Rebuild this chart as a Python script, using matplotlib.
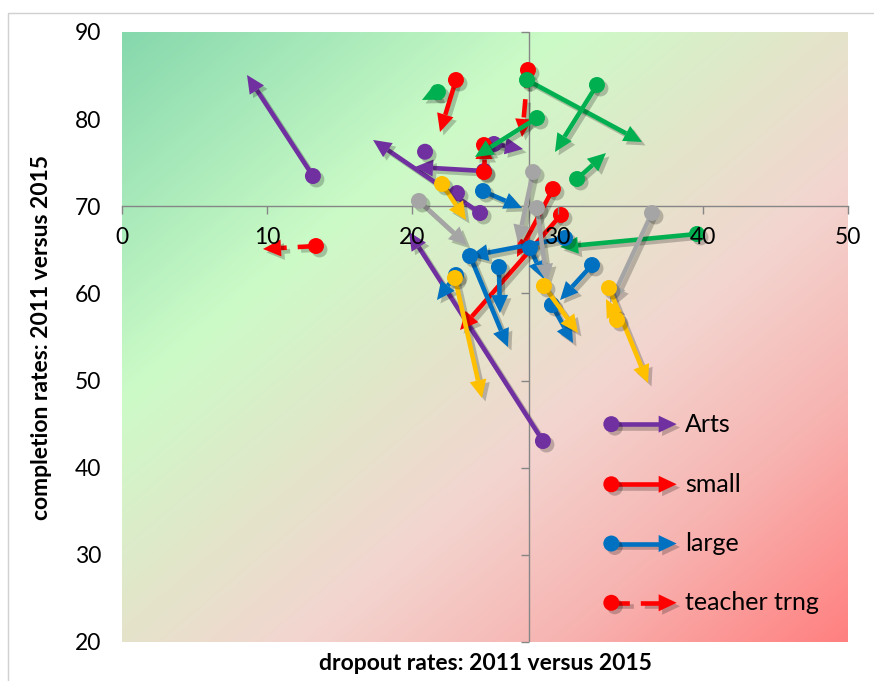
import numpy as np
import matplotlib
matplotlib.use("Agg")
import matplotlib.pyplot as plt
import matplotlib.patheffects as pe
from matplotlib.colors import LinearSegmentedColormap
from matplotlib.patches import Polygon, Rectangle

plt.rcParams['font.family'] = ['Lato', 'DejaVu Sans']

# each school: dropout / completion in 2011 (circle) and 2015 (arrow tip)
arts_drop_2011 = [13.15, 24.66, 24.93, 25.62, 28.99, 20.87, 23.07]
arts_comp_2011 = [73.47, 69.23, 74.05, 77.15, 43.06, 76.26, 71.52]
arts_drop_2015 = [8.61, 17.29, 20.18, 27.62, 19.77, 20.87, 23.07]
arts_comp_2015 = [85.07, 77.61, 74.51, 76.57, 67.05, 76.26, 71.52]

small_drop_2011 = [23.00, 24.93, 24.93, 29.68, 30.23]
small_comp_2011 = [84.49, 73.93, 77.03, 71.98, 69.00]
small_drop_2015 = [21.90, 24.93, 24.93, 27.20, 23.28]
small_comp_2015 = [78.52, 77.49, 77.03, 64.18, 55.80]

trng_drop_2011 = [27.96, 13.36]
trng_comp_2011 = [85.64, 65.44]
trng_drop_2015 = [27.55, 9.71]
trng_comp_2015 = [77.95, 65.10]

green_drop_2011 = [27.89, 32.71, 28.58, 31.34, 21.76, 39.60]
green_comp_2011 = [84.49, 83.92, 80.13, 73.13, 83.11, 66.82]
green_drop_2015 = [35.81, 29.82, 24.31, 33.33, 20.66, 30.17]
green_comp_2015 = [77.38, 76.23, 75.66, 76.11, 82.20, 65.33]

large_drop_2011 = [24.86, 30.51, 23.97, 25.96, 23.00, 28.10, 32.37, 29.61]
large_comp_2011 = [71.75, 66.36, 64.29, 63.03, 62.11, 65.21, 63.26, 58.67]
large_drop_2015 = [27.55, 23.97, 26.58, 26.03, 21.69, 29.06, 30.17, 31.06]
large_comp_2015 = [69.80, 64.29, 53.85, 57.75, 59.24, 61.66, 59.24, 54.31]

grey_drop_2011 = [28.31, 28.58, 20.45, 36.50]
grey_comp_2011 = [73.93, 69.80, 70.61, 69.23]
grey_drop_2015 = [27.27, 29.27, 23.76, 33.61]
grey_comp_2015 = [65.79, 61.31, 65.56, 58.90]

yellow_drop_2011 = [22.04, 22.93, 29.06, 33.54, 34.09]
yellow_comp_2011 = [72.56, 61.77, 60.85, 60.62, 56.95]
yellow_drop_2015 = [23.69, 24.79, 31.40, 36.23, 33.33]
yellow_comp_2015 = [68.43, 48.00, 55.46, 49.72, 59.36]

legend_names = ['Arts', 'small', 'large', 'teacher trng']
legend_colors = ['#7030a0', '#ff0000', '#0070c0', '#ff0000']
legend_dashed = [False, False, False, True]
legend_y = [45.0, 38.1, 31.3, 24.5]
legend_x0, legend_x1 = 33.7, 38.2

axis_color = '#868686'
HEAD_LEN = 18.0   # px
HEAD_HALF = 8.5   # px
SHAFT_LW = 3.3    # pt
DOT_MS = 11.5     # pt

line_shadow = [pe.SimpleLineShadow(offset=(2.5, -2.5), shadow_color='k', alpha=0.22), pe.Normal()]
patch_shadow = [pe.SimplePatchShadow(offset=(2.5, -2.5), shadow_rgbFace='k', alpha=0.22), pe.Normal()]


def draw_arrow(ax, x0, y0, x1, y1, color, dashed=False, z=3):
    p0 = ax.transData.transform((x0, y0))
    p1 = ax.transData.transform((x1, y1))
    d = p1 - p0
    length = np.hypot(*d)
    if length > 1e-6:
        u = d / length
        n = np.array([-u[1], u[0]])
        base = p1 - u * HEAD_LEN
        inv = ax.transData.inverted()
        if length > HEAD_LEN:
            bx, by = inv.transform(base)
            ls = (0, (4.0, 2.4)) if dashed else '-'
            ax.plot([x0, bx], [y0, by], color=color, lw=SHAFT_LW, ls=ls,
                    solid_capstyle='butt', dash_capstyle='butt',
                    zorder=z, path_effects=line_shadow)
        head = inv.transform([p1, base + n * HEAD_HALF, base - n * HEAD_HALF])
        ax.add_patch(Polygon(head, closed=True, fc=color, ec='none',
                             zorder=z, path_effects=patch_shadow))
    ax.plot([x0], [y0], 'o', color=color, ms=DOT_MS, mec='none',
            zorder=z + 0.1, path_effects=patch_shadow)


fig = plt.figure(figsize=(8.74, 6.81), dpi=100)
ax = fig.add_axes([122 / 874, 1 - 642 / 681, 726 / 874, 610 / 681])
ax.set_xlim(0, 50)
ax.set_ylim(20, 90)

# diagonal background shading: green (top left) to red (bottom right)
cmap = LinearSegmentedColormap.from_list('bg', [
    (0.0, '#86d8ad'), (0.3, '#ccfbc7'), (0.48, '#e3e5ca'),
    (0.62, '#f3d5d0'), (0.8, '#f7b4b1'), (1.0, '#ff8080')])
gx, gy = np.meshgrid(np.linspace(0, 1, 400), np.linspace(0, 1, 400))
ax.imshow((gx + gy) / 2, extent=(0, 50, 20, 90), origin='upper',
          aspect='auto', cmap=cmap, zorder=0, interpolation='bilinear')

# axes crossing at dropout 28 / completion 70
for side in ['top', 'right', 'left']:
    ax.spines[side].set_visible(False)
ax.spines['bottom'].set_position(('data', 70))
ax.spines['bottom'].set_color(axis_color)
ax.spines['bottom'].set_linewidth(1.0)
ax.spines['bottom'].set_zorder(1)
ax.axvline(28, color=axis_color, lw=1.0, zorder=1)
yt = np.arange(20, 91, 10)
ax.plot(np.full(len(yt), 28), yt, ls='none', marker=0, ms=6, mew=1.0,
        color=axis_color, zorder=1, clip_on=False)

ax.set_xticks(np.arange(0, 51, 10))
ax.set_yticks(yt)
ax.tick_params(axis='x', direction='out', length=6, width=1.0, color=axis_color,
               pad=9, labelsize=16.5)
ax.tick_params(axis='y', length=0, pad=15, labelsize=16.5)
ax.xaxis.set_zorder(10)

series = [
    (arts_drop_2011, arts_comp_2011, arts_drop_2015, arts_comp_2015, '#7030a0', False),
    (small_drop_2011, small_comp_2011, small_drop_2015, small_comp_2015, '#ff0000', False),
    (trng_drop_2011, trng_comp_2011, trng_drop_2015, trng_comp_2015, '#ff0000', True),
    (green_drop_2011, green_comp_2011, green_drop_2015, green_comp_2015, '#00b050', False),
    (large_drop_2011, large_comp_2011, large_drop_2015, large_comp_2015, '#0070c0', False),
    (grey_drop_2011, grey_comp_2011, grey_drop_2015, grey_comp_2015, '#a5a5a5', False),
    (yellow_drop_2011, yellow_comp_2011, yellow_drop_2015, yellow_comp_2015, '#ffc000', False),
]
for i, (xa, ya, xb, yb, col, dash) in enumerate(series):
    for x0, y0, x1, y1 in zip(xa, ya, xb, yb):
        draw_arrow(ax, x0, y0, x1, y1, col, dashed=dash, z=3 + i * 0.2)

# legend drawn inside the plot with the same arrow symbols
for name, col, dash, y in zip(legend_names, legend_colors, legend_dashed, legend_y):
    draw_arrow(ax, legend_x0, y, legend_x1, y, col, dashed=dash, z=6)
    ax.text(legend_x1 + 0.6, y, name, fontsize=18, va='center', ha='left', zorder=7)

fig.text(485 / 874, 1 - 664 / 681, 'dropout rates: 2011 versus 2015',
         ha='center', va='center', fontsize=16.5, fontweight='bold')
fig.text(42 / 874, 1 - 337 / 681, 'completion rates: 2011 versus 2015',
         ha='center', va='center', rotation=90, fontsize=16.5, fontweight='bold')

fig.patches.append(Rectangle((8 / 874, -0.1), 1.2, 1 - 13 / 681 + 0.1,
                             transform=fig.transFigure, fill=False,
                             ec='#d0d0d0', lw=1.0))

fig.savefig('out.png', dpi=100)
